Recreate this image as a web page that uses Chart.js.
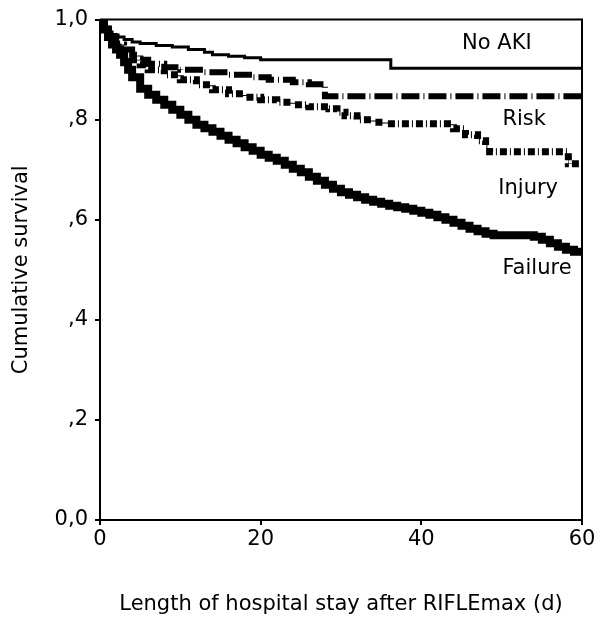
<!DOCTYPE html>
<html>
<head>
<meta charset="utf-8">
<script src="https://cdn.jsdelivr.net/npm/chart.js@4.4.1/dist/chart.umd.min.js"></script>
<style>
  html, body { margin: 0; padding: 0; background: #fff; }
  #wrap { width: 600px; height: 627px; position: relative; }
</style>
</head>
<body>
<div id="wrap"><canvas id="graph" width="600" height="627"></canvas></div>
<script>
// Kaplan-Meier curves: [day, survival]
const noAki = [
  [0, 1.0], [0.5, 0.985], [1, 0.975], [1.5, 0.97], [2, 0.965], [3, 0.96], [4, 0.955],
  [5, 0.952], [7, 0.948], [9, 0.945], [11, 0.94], [13, 0.935], [14, 0.93], [16, 0.927],
  [18, 0.924], [20, 0.92], [36.2, 0.903], [60, 0.903]
];
const risk = [
  [0, 1.0], [0.5, 0.98], [1, 0.965], [2, 0.95], [3, 0.94], [4, 0.93], [5, 0.92],
  [6, 0.912], [8, 0.905], [10, 0.9], [13, 0.895], [16, 0.89], [19, 0.885], [21, 0.88],
  [24, 0.875], [26, 0.871], [28, 0.847], [60, 0.847]
];
const injury = [
  [0, 1.0], [0.5, 0.98], [1, 0.965], [2, 0.945], [3, 0.93], [4, 0.92], [5, 0.91],
  [6, 0.9], [8, 0.89], [10, 0.88], [12, 0.87], [14, 0.86], [16, 0.852], [18, 0.845],
  [20, 0.84], [22, 0.835], [24, 0.83], [26, 0.826], [28.5, 0.822], [29.5, 0.815],
  [30.5, 0.808], [32, 0.8], [34, 0.795], [35.5, 0.792], [44, 0.782], [45.5, 0.77],
  [47, 0.758], [48, 0.745], [48.5, 0.736], [58.3, 0.712], [60, 0.712]
];
const failure = [
  [0, 1.0], [0.5, 0.98], [1, 0.965], [1.5, 0.95], [2, 0.94], [2.5, 0.93], [3, 0.915],
  [3.5, 0.9], [4, 0.885], [5, 0.862], [6, 0.85], [7, 0.84], [8, 0.83], [9, 0.82],
  [10, 0.81], [11, 0.8], [12, 0.79], [13, 0.783], [14, 0.776], [15, 0.768], [16, 0.76],
  [17, 0.753], [18, 0.745], [19, 0.738], [20, 0.73], [21, 0.724], [22, 0.718], [23, 0.71],
  [24, 0.702], [25, 0.695], [26, 0.686], [27, 0.678], [28, 0.67], [29, 0.662], [30, 0.655],
  [31, 0.65], [32, 0.645], [33, 0.64], [34, 0.636], [35, 0.632], [36, 0.628], [37, 0.625],
  [38, 0.622], [39, 0.618], [40, 0.614], [41, 0.61], [42, 0.605], [43, 0.6], [44, 0.594],
  [45, 0.588], [46, 0.582], [47, 0.577], [48, 0.572], [49, 0.569], [54, 0.566], [55, 0.56],
  [56, 0.553], [57, 0.546], [58, 0.54], [59, 0.536], [60, 0.535]
];

const seriesNames = ['No AKI', 'Risk', 'Injury', 'Failure'];
const xTicks = [0, 20, 40, 60];
const yTickLabels = ['0,0', ',2', ',4', ',6', ',8', '1,0'];

// where the curve names sit, in data units
const curveLabels = [
  {text: 'No AKI', x: 49.4, y: 0.952},
  {text: 'Risk', x: 52.8, y: 0.801},
  {text: 'Injury', x: 53.3, y: 0.662},
  {text: 'Failure', x: 54.4, y: 0.503}
];

const FONT = '"DejaVu Sans", "Liberation Sans", sans-serif';
const FSIZE = 21;

function toXY(arr) {
  return arr.map(p => ({x: p[0], y: p[1]}));
}

const boxAndLabels = {
  id: 'boxAndLabels',
  afterDraw(chart) {
    const {ctx, chartArea, scales} = chart;
    ctx.save();
    ctx.strokeStyle = '#000';
    ctx.lineWidth = 2;
    ctx.beginPath();
    ctx.moveTo(chartArea.left, chartArea.top);
    ctx.lineTo(chartArea.right, chartArea.top);
    ctx.lineTo(chartArea.right, chartArea.bottom);
    ctx.stroke();
    ctx.fillStyle = '#000';
    ctx.font = FSIZE + 'px ' + FONT;
    ctx.textAlign = 'center';
    ctx.textBaseline = 'middle';
    curveLabels.forEach(l => {
      ctx.fillText(l.text, scales.x.getPixelForValue(l.x), scales.y.getPixelForValue(l.y));
    });
    ctx.restore();
  }
};

window.addEventListener('DOMContentLoaded', () => {
  const graph = document.getElementById('graph');
  new Chart(graph, {
    type: 'line',
    data: {
      datasets: [
        {
          label: seriesNames[0],
          data: toXY(noAki),
          borderColor: '#000',
          borderWidth: 3,
          stepped: true,
          pointRadius: 0
        },
        {
          label: seriesNames[1],
          data: toXY(risk),
          borderColor: '#000',
          borderWidth: 6,
          borderDash: [18, 4, 1, 4],
          stepped: true,
          pointRadius: 0
        },
        {
          label: seriesNames[2],
          data: toXY(injury),
          borderColor: '#000',
          borderWidth: 7,
          borderDash: [7, 3, 1, 3],
          stepped: true,
          pointRadius: 0
        },
        {
          label: seriesNames[3],
          data: toXY(failure),
          borderColor: '#000',
          borderWidth: 8,
          stepped: true,
          pointRadius: 0
        }
      ]
    },
    options: {
      responsive: false,
      animation: false,
      layout: {padding: {left: 0, right: 18, top: 17, bottom: 0}},
      plugins: {legend: {display: false}, tooltip: {enabled: false}},
      scales: {
        x: {
          type: 'linear',
          min: 0,
          max: 60,
          afterFit: s => { s.height = 107; },
          afterBuildTicks: s => { s.ticks = xTicks.map(v => ({value: v})); },
          grid: {drawOnChartArea: false, drawTicks: true, tickLength: 5, color: '#000', lineWidth: 2},
          border: {display: true, color: '#000', width: 2},
          ticks: {color: '#000', font: {family: FONT, size: FSIZE}, padding: 2, maxRotation: 0},
          title: {
            display: true,
            text: 'Length of hospital stay after RIFLEmax (d)',
            color: '#000',
            font: {family: FONT, size: FSIZE},
            padding: {top: 0, bottom: 10}
          }
        },
        y: {
          type: 'linear',
          min: 0,
          max: 1,
          afterFit: s => { s.width = 100; },
          afterBuildTicks: s => { s.ticks = yTickLabels.map((t, i) => ({value: i * 0.2})); },
          grid: {drawOnChartArea: false, drawTicks: true, tickLength: 5, color: '#000', lineWidth: 2},
          border: {display: true, color: '#000', width: 2},
          ticks: {
            color: '#000',
            font: {family: FONT, size: FSIZE},
            padding: 7,
            callback: (v, i) => yTickLabels[i]
          },
          title: {
            display: true,
            text: 'Cumulative survival',
            color: '#000',
            font: {family: FONT, size: FSIZE},
            padding: {top: 9, bottom: 0}
          }
        }
      }
    },
    plugins: [boxAndLabels]
  });
});
</script>
</body>
</html>
